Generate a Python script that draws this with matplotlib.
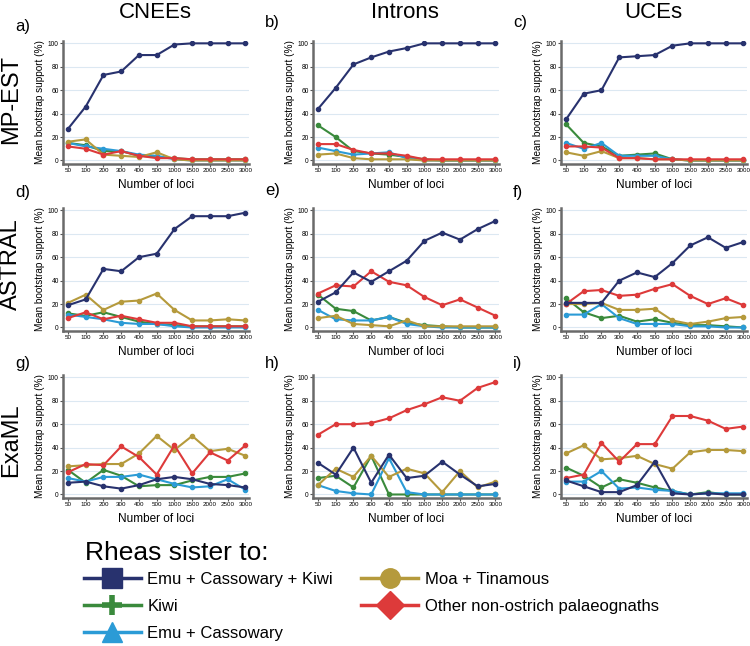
import numpy as np
import matplotlib.pyplot as plt
from matplotlib.lines import Line2D

plt.rcParams['font.family'] = ['Liberation Sans', 'DejaVu Sans']

loci = ['50', '100', '200', '300', '400', '500', '1000', '1500', '2000', '2500', '3000']
datasets = ['CNEEs', 'Introns', 'UCEs']
methods = ['MP-EST', 'ASTRAL', 'ExaML']
series = ['Emu + Cassowary + Kiwi', 'Kiwi', 'Emu + Cassowary',
          'Moa + Tinamous', 'Other non-ostrich palaeognaths']
colors = ['#28326e', '#3a8a3c', '#2b9bd6', '#b59a3c', '#dd3a3a']
markers = ['s', '+', '^', 'o', 'D']

# MP-EST
mpest_cnees_eck = [27, 46, 73, 76, 90, 90, 99, 100, 100, 100, 100]
mpest_cnees_kiwi = [15, 13, 8, 8, 4, 3, 2, 1, 1, 1, 1]
mpest_cnees_ec = [15, 12, 10, 8, 5, 4, 1, 0, 0, 0, 0]
mpest_cnees_moa = [16, 18, 5, 4, 3, 7, 1, 0, 0, 0, 0]
mpest_cnees_other = [12, 10, 5, 8, 4, 2, 2, 1, 1, 1, 1]

mpest_introns_eck = [44, 62, 82, 88, 93, 96, 100, 100, 100, 100, 100]
mpest_introns_kiwi = [30, 20, 8, 6, 5, 3, 1, 0, 0, 0, 0]
mpest_introns_ec = [11, 8, 5, 6, 7, 2, 0, 0, 0, 0, 0]
mpest_introns_moa = [5, 6, 2, 1, 1, 1, 0, 0, 0, 0, 0]
mpest_introns_other = [14, 14, 9, 6, 6, 4, 1, 1, 1, 1, 1]

mpest_uces_eck = [35, 57, 60, 88, 89, 90, 98, 100, 100, 100, 100]
mpest_uces_kiwi = [31, 15, 12, 4, 5, 6, 1, 0, 0, 0, 0]
mpest_uces_ec = [15, 10, 15, 4, 4, 4, 1, 0, 0, 0, 0]
mpest_uces_moa = [7, 4, 8, 2, 2, 1, 1, 0, 0, 0, 0]
mpest_uces_other = [12, 12, 11, 2, 2, 1, 1, 1, 1, 1, 1]

# ASTRAL
astral_cnees_eck = [19, 24, 50, 48, 60, 63, 84, 95, 95, 95, 98]
astral_cnees_kiwi = [12, 10, 13, 9, 5, 3, 2, 1, 1, 1, 1]
astral_cnees_ec = [11, 9, 7, 4, 3, 3, 1, 0, 0, 0, 0]
astral_cnees_moa = [21, 28, 15, 22, 23, 29, 15, 6, 6, 7, 6]
astral_cnees_other = [8, 13, 7, 10, 7, 4, 4, 1, 1, 1, 1]

astral_introns_eck = [22, 30, 47, 39, 48, 57, 74, 81, 75, 84, 91]
astral_introns_kiwi = [28, 16, 14, 6, 9, 4, 2, 1, 0, 0, 0]
astral_introns_ec = [15, 7, 6, 6, 9, 3, 1, 0, 0, 0, 0]
astral_introns_moa = [8, 10, 3, 2, 1, 6, 1, 1, 1, 1, 1]
astral_introns_other = [29, 36, 35, 48, 39, 36, 26, 19, 24, 17, 10]

astral_uces_eck = [21, 21, 21, 40, 47, 43, 55, 70, 77, 68, 73]
astral_uces_kiwi = [25, 13, 8, 10, 5, 7, 4, 2, 2, 1, 0]
astral_uces_ec = [11, 11, 20, 8, 3, 3, 3, 1, 1, 0, 0]
astral_uces_moa = [20, 20, 21, 15, 15, 16, 6, 3, 5, 8, 9]
astral_uces_other = [20, 31, 32, 27, 28, 33, 37, 27, 20, 25, 19]

# ExaML
examl_cnees_eck = [10, 11, 7, 5, 8, 13, 15, 13, 9, 8, 6]
examl_cnees_kiwi = [21, 10, 21, 16, 7, 8, 8, 12, 15, 15, 18]
examl_cnees_ec = [14, 11, 15, 15, 17, 13, 9, 6, 7, 13, 4]
examl_cnees_moa = [24, 25, 26, 26, 35, 50, 38, 50, 37, 39, 33]
examl_cnees_other = [19, 26, 25, 41, 32, 17, 42, 18, 36, 29, 42]

examl_introns_eck = [27, 17, 40, 10, 34, 14, 16, 28, 17, 7, 9]
examl_introns_kiwi = [14, 16, 6, 33, 0, 0, 0, 0, 0, 0, 0]
examl_introns_ec = [8, 3, 1, 0, 31, 2, 0, 0, 0, 0, 0]
examl_introns_moa = [8, 22, 15, 33, 15, 22, 18, 2, 20, 6, 11]
examl_introns_other = [51, 60, 60, 61, 65, 72, 77, 83, 80, 91, 96]

examl_uces_eck = [12, 7, 2, 2, 8, 28, 1, 0, 1, 0, 0]
examl_uces_kiwi = [23, 16, 6, 13, 10, 6, 3, 0, 2, 0, 0]
examl_uces_ec = [11, 11, 20, 5, 6, 4, 3, 0, 1, 1, 1]
examl_uces_moa = [35, 42, 30, 31, 33, 26, 22, 36, 38, 38, 37]
examl_uces_other = [14, 17, 44, 28, 43, 43, 67, 67, 63, 56, 58]

panels = [
    [[mpest_cnees_eck, mpest_cnees_kiwi, mpest_cnees_ec, mpest_cnees_moa, mpest_cnees_other],
     [mpest_introns_eck, mpest_introns_kiwi, mpest_introns_ec, mpest_introns_moa, mpest_introns_other],
     [mpest_uces_eck, mpest_uces_kiwi, mpest_uces_ec, mpest_uces_moa, mpest_uces_other]],
    [[astral_cnees_eck, astral_cnees_kiwi, astral_cnees_ec, astral_cnees_moa, astral_cnees_other],
     [astral_introns_eck, astral_introns_kiwi, astral_introns_ec, astral_introns_moa, astral_introns_other],
     [astral_uces_eck, astral_uces_kiwi, astral_uces_ec, astral_uces_moa, astral_uces_other]],
    [[examl_cnees_eck, examl_cnees_kiwi, examl_cnees_ec, examl_cnees_moa, examl_cnees_other],
     [examl_introns_eck, examl_introns_kiwi, examl_introns_ec, examl_introns_moa, examl_introns_other],
     [examl_uces_eck, examl_uces_kiwi, examl_uces_ec, examl_uces_moa, examl_uces_other]],
]
letters = ['a)', 'b)', 'c)', 'd)', 'e)', 'f)', 'g)', 'h)', 'i)']

W, H = 750, 646
fig = plt.figure(figsize=(W / 100, H / 100), dpi=100)

col_left = [63, 313, 561]
row_top = [41, 208, 375]
ax_w, ax_h = 186, 123
x = np.arange(len(loci))

# panel letter positions (px, left / centre)
letter_x = [15, 265, 513]
letter_y = [[27, 22, 22], [192, 190, 192], [363, 363, 363]]

for r in range(3):
    for c in range(3):
        ax = fig.add_axes([col_left[c] / W, 1 - (row_top[r] + ax_h) / H, ax_w / W, ax_h / H])
        # draw in reverse so the first series sits on top
        for k in [4, 3, 1, 2, 0]:
            ax.plot(x, panels[r][c][k], color=colors[k], lw=1.5, marker='o', ms=3,
                    mec=colors[k], mfc=colors[k], zorder=3 + k if k else 9)
        ax.set_xlim(-0.28, 10.2)
        ax.set_ylim(-3, 102)
        ax.set_yticks([0, 20, 40, 60, 80, 100])
        ax.set_xticks(x)
        ax.set_xticklabels(loci, fontsize=4.5)
        ax.tick_params(axis='y', labelsize=4.8, length=2, width=0.8, pad=1, color='#555555')
        ax.tick_params(axis='x', length=2, width=0.8, pad=1, color='#555555')
        ax.grid(axis='y', color='#dce8f2', lw=0.8)
        ax.set_axisbelow(True)
        for s in ['top', 'right']:
            ax.spines[s].set_visible(False)
        for s in ['left', 'bottom']:
            ax.spines[s].set_color('#6a6a6a')
            ax.spines[s].set_linewidth(1.8)
        ax.set_ylabel('Mean bootstrap support (%)', fontsize=7.2, labelpad=2)
        ax.set_xlabel('Number of loci', fontsize=8.5, labelpad=4)
        fig.text(letter_x[c] / W, 1 - letter_y[r][c] / H, letters[r * 3 + c],
                 fontsize=12, va='center', ha='left')

for c, name in enumerate(datasets):
    fig.text((col_left[c] + 92) / W, 1 - 12 / H, name, fontsize=16, ha='center', va='center')

row_label_y = [99, 264, 440]
for r, name in enumerate(methods):
    fig.text(11 / W, 1 - row_label_y[r] / H, name, fontsize=17, rotation=90,
             ha='center', va='center')

fig.text(85 / W, 1 - 553 / H, 'Rheas sister to:', fontsize=19, ha='left', va='center')

handles = [Line2D([0], [0], color=colors[k], lw=2.5, marker=markers[k], ms=14,
                  mew=4 if markers[k] == '+' else 1, mec=colors[k], mfc=colors[k])
           for k in range(5)]
fig.legend(handles, series, loc='upper left', bbox_to_anchor=(84 / W, 1 - 572 / H),
           ncol=2, frameon=False, fontsize=12, handlelength=3.4, handletextpad=0.4,
           labelspacing=0.72, columnspacing=1.7, borderpad=0, borderaxespad=0)

fig.savefig('out.png', dpi=100)
